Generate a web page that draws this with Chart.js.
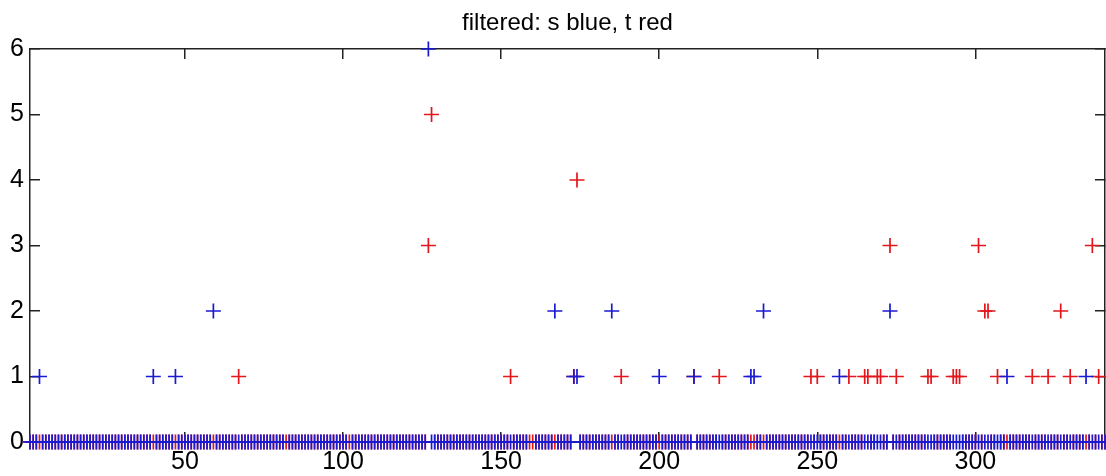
<!DOCTYPE html>
<html lang="en">
<head>
<meta charset="UTF-8">
<title>filtered: s blue, t red</title>
<style>
  html, body { margin: 0; padding: 0; background: #fff; }
</style>
</head>
<body>
<canvas id="myChart" width="1106" height="476"></canvas>

<script src="https://cdn.jsdelivr.net/npm/chart.js"></script>
<script>
const titleText = 'filtered: s blue, t red'
const nPoints = 341
const xTicks = [50, 100, 150, 200, 250, 300]
const yTicks = [0, 1, 2, 3, 4, 5, 6]

// s (blue): every index is 0 except these
const sX = [4, 40, 47, 59, 127, 167, 173, 174, 185, 200, 211, 229, 230, 233, 257, 273, 310, 335]
const sY = [1, 1, 1, 2, 6, 2, 1, 1, 2, 1, 1, 1, 1, 2, 1, 2, 1, 1]
// indices where s has no marker at all
const sMissing = [82, 102, 159, 160]

// t (red): every index is 0 except these
const tX = [67, 127, 128, 153, 173, 174, 188, 211, 219, 248, 250, 260, 265, 266, 269, 270, 273, 275,
            285, 286, 293, 294, 295, 301, 303, 304, 307, 318, 323, 327, 330, 337, 339]
const tY = [1, 3, 5, 1, 1, 4, 1, 1, 1, 1, 1, 1, 1, 1, 1, 1, 3, 1,
            1, 1, 1, 1, 1, 3, 2, 2, 1, 1, 1, 2, 1, 3, 1]

function buildSeries(xs, ys, missing) {
  let pts = []
  for (let i = 1; i <= nPoints; i++) {
    if (missing.includes(i)) continue
    let k = xs.indexOf(i)
    pts.push({ x: i, y: k >= 0 ? ys[k] : 0 })
  }
  return pts
}

const fontFamily = '"Liberation Sans", Arial, Helvetica, sans-serif'
const axisColor = '#222'

function fixedTicks(values) {
  return function (scale) { scale.ticks = values.map(v => ({ value: v })) }
}

const inwardGrid = { drawOnChartArea: false, drawTicks: true, tickLength: -10, color: axisColor, lineWidth: 1.5 }
const axisBorder = { display: true, color: axisColor, width: 1.5 }

// title centred over the plot box, like the original figure
const boxTitle = {
  id: 'boxTitle',
  afterDraw(chart) {
    const ctx = chart.ctx
    const a = chart.chartArea
    ctx.save()
    ctx.fillStyle = '#000'
    ctx.font = '24px ' + fontFamily
    ctx.textAlign = 'center'
    ctx.textBaseline = 'alphabetic'
    ctx.fillText(titleText, (a.left + a.right) / 2, 30)
    ctx.restore()
  }
}

const ctx = document.getElementById('myChart')
new Chart(ctx, {
  type: 'scatter',
  data: {
    datasets: [
      {
        label: 's',
        data: buildSeries(sX, sY, sMissing),
        pointStyle: 'cross',
        pointRadius: 7.5,
        pointBorderWidth: 1.7,
        borderColor: '#1a1ad2',
        backgroundColor: '#1a1ad2',
        clip: false
      },
      {
        label: 't',
        data: buildSeries(tX, tY, []),
        pointStyle: 'cross',
        pointRadius: 7.5,
        pointBorderWidth: 1.7,
        borderColor: '#e3161c',
        backgroundColor: '#e3161c',
        clip: false
      }
    ]
  },
  options: {
    responsive: false,
    devicePixelRatio: 1,
    animation: false,
    layout: { autoPadding: false, padding: { top: 49, left: 0, right: 0, bottom: 0 } },
    plugins: {
      legend: { display: false },
      tooltip: { enabled: false },
      title: { display: false }
    },
    scales: {
      x: {
        type: 'linear', position: 'bottom', min: 1, max: nPoints,
        afterBuildTicks: fixedTicks(xTicks),
        afterFit: s => { s.height = 34; s.paddingLeft = 0; s.paddingRight = 0 },
        grid: inwardGrid, border: axisBorder,
        ticks: { autoSkip: false, maxRotation: 0, padding: 15, color: '#000', font: { family: fontFamily, size: 25 } }
      },
      x2: {
        type: 'linear', position: 'top', min: 1, max: nPoints,
        afterBuildTicks: fixedTicks(xTicks),
        afterFit: s => { s.height = 0; s.paddingLeft = 0; s.paddingRight = 0 },
        grid: inwardGrid, border: axisBorder,
        ticks: { display: false }
      },
      y: {
        type: 'linear', position: 'left', min: 0, max: 6,
        afterBuildTicks: fixedTicks(yTicks),
        afterFit: s => { s.width = 30; s.paddingTop = 0; s.paddingBottom = 0 },
        grid: inwardGrid, border: axisBorder,
        ticks: { padding: 16, color: '#000', font: { family: fontFamily, size: 25 } }
      },
      y2: {
        type: 'linear', position: 'right', min: 0, max: 6,
        afterBuildTicks: fixedTicks(yTicks),
        afterFit: s => { s.width = 1; s.paddingTop = 0; s.paddingBottom = 0 },
        grid: inwardGrid, border: axisBorder,
        ticks: { display: false }
      }
    }
  },
  plugins: [boxTitle]
})
</script>
</body>
</html>
